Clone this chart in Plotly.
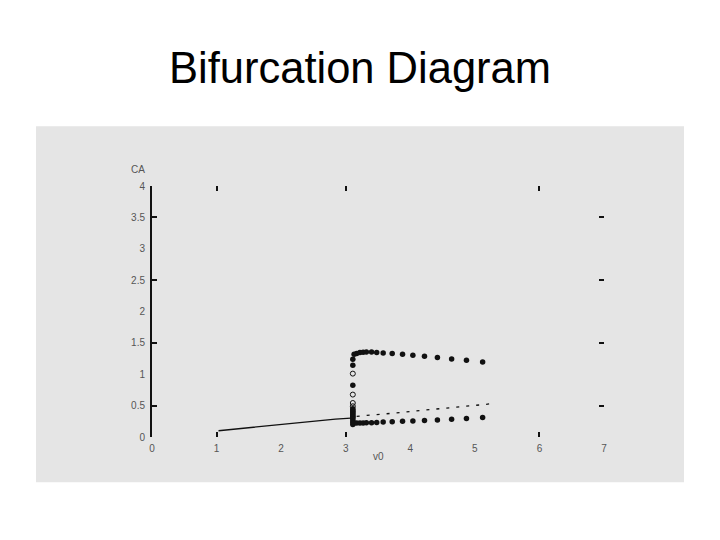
import plotly.graph_objects as go

# ---- data ----
stable_low_x = [1.03, 1.40, 1.81, 2.33, 2.84, 3.08]
stable_low_y = [0.10, 0.14, 0.18, 0.23, 0.285, 0.30]

upper_x = [3.13, 3.17, 3.22, 3.27, 3.32, 3.40, 3.48, 3.58, 3.72, 3.88, 4.04, 4.22, 4.42, 4.64, 4.87, 5.12]
upper_y = [1.318, 1.329, 1.345, 1.350, 1.355, 1.355, 1.345, 1.339, 1.330, 1.318, 1.302, 1.286, 1.265, 1.243, 1.222, 1.195]

lower_x = [3.13, 3.17, 3.22, 3.27, 3.32, 3.40, 3.48, 3.58, 3.72, 3.88, 4.04, 4.22, 4.42, 4.64, 4.87, 5.12]
lower_y = [0.223, 0.223, 0.224, 0.225, 0.227, 0.229, 0.232, 0.239, 0.245, 0.250, 0.255, 0.261, 0.271, 0.282, 0.293, 0.309]

unstable_x = [3.17, 3.58, 3.85, 4.15, 4.53, 4.79, 5.13, 5.31]
unstable_y = [0.33, 0.362, 0.389, 0.421, 0.453, 0.484, 0.516, 0.537]

col_filled_x = [3.11] * 15
col_filled_y = [1.238, 1.143, 0.824, 0.45, 0.43, 0.41, 0.39, 0.37, 0.35, 0.33, 0.31, 0.29, 0.26, 0.23, 0.20]
col_open_x = [3.11] * 4
col_open_y = [1.01, 0.676, 0.542, 0.49]

x_ticks = [0, 1, 2, 3, 4, 5, 6, 7]
x_ticktext = ["0", "1", "2", "3", "4", "5", "6", "7"]
y_ticks = [0, 0.5, 1, 1.5, 2, 2.5, 3, 3.5, 4]
y_ticktext = ["0", "0.5", "1", "1.5", "2", "2.5", "3", "3.5", "4"]
x_mark_ticks = [1, 3, 6]
y_mark_ticks = [0.5, 1.5, 2.5, 3.5]

ink = "#111111"
lab = "#555555"

fig = go.Figure()
fig.add_trace(go.Scatter(x=stable_low_x, y=stable_low_y, mode="lines", xaxis="x2", yaxis="y",
                         line=dict(color=ink, width=1.3), showlegend=False))
fig.add_trace(go.Scatter(x=unstable_x, y=unstable_y, mode="lines",
                         line=dict(color=ink, width=1.3, dash="3px,7px"), showlegend=False))
fig.add_trace(go.Scatter(x=upper_x, y=upper_y, mode="markers", xaxis="x", yaxis="y2",
                         marker=dict(color=ink, size=5.5), showlegend=False))
fig.add_trace(go.Scatter(x=lower_x, y=lower_y, mode="markers", xaxis="x", yaxis="y3",
                         marker=dict(color=ink, size=5.5), showlegend=False))
fig.add_trace(go.Scatter(x=col_filled_x, y=col_filled_y, mode="markers",
                         marker=dict(color=ink, size=5.5), showlegend=False))
fig.add_trace(go.Scatter(x=col_open_x, y=col_open_y, mode="markers",
                         marker=dict(color=ink, size=5, symbol="circle-open", line=dict(width=1)),
                         showlegend=False))

tickfont = dict(family="Liberation Sans, Arial, sans-serif", size=10, color=lab)

# the page body adds an 8px offset; margins compensate for it
fig.update_layout(
    width=720, height=540,
    margin=dict(l=144, r=124, t=178, b=111),
    paper_bgcolor="white",
    plot_bgcolor="rgba(0,0,0,0)",
    title=dict(text="Bifurcation Diagram", x=352 / 720, xref="container", xanchor="center",
               y=1 - 60 / 540, yref="container", yanchor="middle",
               font=dict(family="Liberation Sans, Arial, sans-serif", size=43.5, color="black")),
    xaxis=dict(range=[0, 7], tickvals=x_mark_ticks, ticks="inside", ticklen=5, tickwidth=1.5,
               tickcolor=ink, mirror="ticks", showticklabels=False, showline=False,
               showgrid=False, zeroline=False),
    xaxis2=dict(range=[0, 7], overlaying="x", anchor="y", side="bottom", tickvals=x_ticks,
                ticktext=x_ticktext, ticks="", showline=False, showgrid=False, zeroline=False,
                tickfont=tickfont, ticklabelstandoff=4),
    yaxis=dict(range=[0, 4], tickvals=y_mark_ticks, ticks="inside", ticklen=5, tickwidth=1.5,
               tickcolor=ink, showticklabels=False, showline=True, linecolor=ink, linewidth=1.5,
               showgrid=False, zeroline=False),
    yaxis2=dict(range=[0, 4], overlaying="y", anchor="x", side="left", tickvals=y_ticks,
                ticktext=y_ticktext, ticks="", showline=False, showgrid=False, zeroline=False,
                tickfont=tickfont, ticklabelstandoff=6),
    yaxis3=dict(range=[0, 4], overlaying="y", anchor="x", side="right", tickvals=y_mark_ticks,
                ticks="inside", ticklen=5, tickwidth=1.5, tickcolor=ink, showticklabels=False,
                showline=False, showgrid=False, zeroline=False),
    shapes=[dict(type="rect", xref="paper", yref="paper", x0=-0.2566, x1=1.177,
                 y0=-0.1805, y1=1.2378, fillcolor="#e5e5e5", line=dict(width=0), layer="below")],
    annotations=[
        dict(text="CA", xref="paper", yref="paper", x=-0.031, y=1.0665, showarrow=False,
             font=tickfont, xanchor="center", yanchor="middle"),
        dict(text="v0", xref="paper", yref="paper", x=0.5, y=-0.077, showarrow=False,
             font=tickfont, xanchor="center", yanchor="middle"),
    ],
)

fig.write_html("out.html")
